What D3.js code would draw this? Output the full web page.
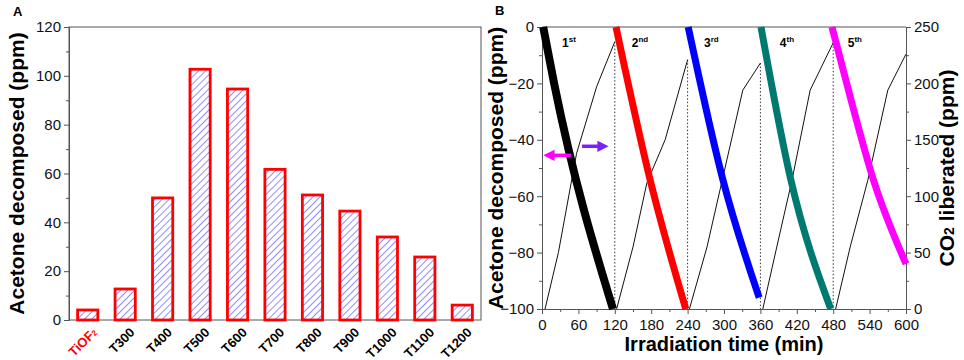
<!DOCTYPE html>
<html>
<head>
<meta charset="utf-8">
<script src="https://cdn.jsdelivr.net/npm/d3@7"></script>
<style>
body { margin:0; background:#fff; }
svg { font-family: Arial, "Liberation Sans", sans-serif; }
.axis path, .axis line { stroke:#555; }
.axis text { font-size:15px; fill:#111; }
</style>
</head>
<body>
<svg id="chart" width="964" height="360"></svg>
<script>
// panel A data
var samples = ["TiOF2","T300","T400","T500","T600","T700","T800","T900","T1000","T1100","T1200"];
var decomposed = [4.1, 12.7, 50, 102.7, 94.6, 61.7, 51.2, 44.6, 34, 25.8, 6.1];
var yTicksA = [0,20,40,60,80,100,120];

// panel B data: acetone decomposed per cycle (time min, ppm)
var cycleNames = ["1st","2nd","3rd","4th","5th"];
var cycleColors = ["#000000","#ff0000","#0000ff","#007a70","#ff00ff"];
var cycleTime = [
  [2, 20, 117],
  [122, 178, 237],
  [241, 298, 358],
  [361, 410, 476],
  [478, 512, 546, 600]
];
var cycleAcetone = [
  [0, -20, -100],
  [0, -54, -100],
  [0, -54, -96],
  [0, -54, -100],
  [0, -28, -54, -84]
];
// CO2 liberated per cycle (time min, ppm)
var co2Time = [
  [5, 27, 57, 90, 120],
  [123, 150, 173, 203, 240],
  [243, 272, 297, 331, 360],
  [364, 387, 412, 442, 480],
  [484, 508, 537, 570, 600]
];
var co2Value = [
  [0, 50, 138, 197, 237],
  [0, 55, 112, 150, 221],
  [0, 55, 114, 194, 218],
  [0, 55, 114, 194, 236],
  [0, 55, 114, 194, 226]
];
var labelTime = [33, 148, 267, 392, 504];
var labelValue = -7;
var xTicksB = [0,60,120,180,240,300,360,420,480,540,600];
var yTicksB = [0,-20,-40,-60,-80,-100];
var y2TicksB = [0,50,100,150,200,250];

var svg = d3.select("#chart");

// hatch pattern
var defs = svg.append("defs");
defs.append("pattern")
  .attr("id","hatch")
  .attr("patternUnits","userSpaceOnUse")
  .attr("width",5).attr("height",5)
  .attr("patternTransform","rotate(45)")
  .append("line")
  .attr("x1",0).attr("y1",0).attr("x2",0).attr("y2",5)
  .attr("stroke","#5c5cff").attr("stroke-width",1.4);
defs.append("marker")
  .attr("id","headM").attr("viewBox","0 0 10 10")
  .attr("refX",2).attr("refY",5)
  .attr("markerWidth",3.2).attr("markerHeight",3.2)
  .attr("orient","auto")
  .append("path").attr("d","M0,0 L10,5 L0,10 z").attr("fill","#ff00ff");
defs.append("marker")
  .attr("id","headP").attr("viewBox","0 0 10 10")
  .attr("refX",2).attr("refY",5)
  .attr("markerWidth",3.2).attr("markerHeight",3.2)
  .attr("orient","auto")
  .append("path").attr("d","M0,0 L10,5 L0,10 z").attr("fill","#7b1fff");

// ---------------- panel A ----------------
var aLeft = 69, aRight = 481, aTop = 27, aBottom = 320;
var xA = d3.scaleBand().domain(samples).range([aLeft, aRight]).paddingInner(0.46).paddingOuter(0.23);
var yA = d3.scaleLinear().domain([0,120]).range([aBottom, aTop]);

svg.append("g").attr("class","axis")
  .attr("transform","translate("+aLeft+",0)")
  .call(d3.axisLeft(yA).tickValues(d3.range(10,120,20)).tickSize(3).tickFormat(""))
  .call(function(g){ g.select(".domain").remove(); });
svg.append("g").attr("class","axis")
  .attr("transform","translate("+aLeft+",0)")
  .call(d3.axisLeft(yA).tickValues(yTicksA).tickSize(5).tickPadding(3));

svg.append("rect")
  .attr("x",aLeft).attr("y",aTop).attr("width",aRight-aLeft).attr("height",aBottom-aTop)
  .attr("fill","none").attr("stroke","#555");

svg.selectAll(".bar").data(samples).enter().append("rect")
  .attr("class","bar")
  .attr("x",function(d){ return xA(d); })
  .attr("width",xA.bandwidth())
  .attr("y",function(d,i){ return yA(decomposed[i]); })
  .attr("height",function(d,i){ return aBottom - yA(decomposed[i]); })
  .attr("fill","url(#hatch)")
  .attr("stroke","#ff0000").attr("stroke-width",2.8);

var xlab = svg.selectAll(".xlab").data(samples).enter().append("text")
  .attr("transform",function(d){ return "translate("+(xA(d)+xA.bandwidth()/2+7)+","+(aBottom+10)+") rotate(-45)"; })
  .attr("text-anchor","end").attr("dy","0.35em")
  .style("font-size","13px").style("font-weight","bold")
  .attr("fill",function(d,i){ return i===0 ? "#ff0000" : "#000"; });
xlab.each(function(d){
  var t = d3.select(this);
  if (d === "TiOF2") {
    t.append("tspan").text("TiOF");
    t.append("tspan").text("2").style("font-size","8px");
  } else t.text(d);
});

svg.append("text")
  .attr("transform","translate(24,"+((aTop+aBottom)/2)+") rotate(-90)")
  .attr("text-anchor","middle")
  .style("font-size","21px").style("font-weight","bold")
  .text("Acetone decomposed (ppm)");
svg.append("text").attr("x",13).attr("y",16)
  .style("font-size","13px").style("font-weight","bold").text("A");

// ---------------- panel B ----------------
var bLeft = 542, bRight = 906, bTop = 27, bBottom = 309;
var xB = d3.scaleLinear().domain([0,600]).range([bLeft,bRight]);
var yB = d3.scaleLinear().domain([-100,0]).range([bBottom,bTop]);
var y2B = d3.scaleLinear().domain([0,250]).range([bBottom,bTop]);

function minor(g){ g.select(".domain").remove(); }
svg.append("g").attr("class","axis").attr("transform","translate("+bLeft+",0)")
  .call(d3.axisLeft(yB).tickValues(d3.range(-90,0,20)).tickSize(3).tickFormat("")).call(minor);
svg.append("g").attr("class","axis").attr("transform","translate("+bLeft+",0)")
  .call(d3.axisLeft(yB).tickValues(yTicksB).tickSize(5).tickPadding(3));
svg.append("g").attr("class","axis").attr("transform","translate(0,"+bBottom+")")
  .call(d3.axisBottom(xB).tickValues(d3.range(30,600,60)).tickSize(3).tickFormat("")).call(minor);
svg.append("g").attr("class","axis").attr("transform","translate(0,"+bBottom+")")
  .call(d3.axisBottom(xB).tickValues(xTicksB).tickSize(5).tickPadding(5));
svg.append("g").attr("class","axis").attr("transform","translate("+bRight+",0)")
  .call(d3.axisRight(y2B).tickValues(d3.range(25,250,50)).tickSize(3).tickFormat("")).call(minor);
svg.append("g").attr("class","axis").attr("transform","translate("+bRight+",0)")
  .call(d3.axisRight(y2B).tickValues(y2TicksB).tickSize(5).tickPadding(3));
svg.append("line").attr("x1",bLeft).attr("x2",bRight).attr("y1",bTop).attr("y2",bTop).attr("stroke","#555");

// dotted separators at cycle ends
var sepTimes = [120,240,360,480];
svg.selectAll(".sep").data(sepTimes).enter().append("line")
  .attr("x1",function(d){ return xB(d); }).attr("x2",function(d){ return xB(d); })
  .attr("y1",function(d,i){ return y2B(co2Value[i][co2Value[i].length-1]); })
  .attr("y2",bBottom)
  .attr("stroke","#333").attr("stroke-width",1).attr("stroke-dasharray","1.5,2");

// CO2 thin lines
var lineCO2 = d3.line().x(function(d){ return xB(d[0]); }).y(function(d){ return y2B(d[1]); });
co2Time.forEach(function(ts,c){
  svg.append("path")
    .attr("d",lineCO2(ts.map(function(t,i){ return [t, co2Value[c][i]]; })))
    .attr("fill","none").attr("stroke","#111").attr("stroke-width",1);
});

// acetone thick lines
var lineAc = d3.line().curve(d3.curveMonotoneX)
  .x(function(d){ return xB(d[0]); }).y(function(d){ return yB(d[1]); });
cycleTime.forEach(function(ts,c){
  svg.append("path")
    .attr("d",lineAc(ts.map(function(t,i){ return [t, cycleAcetone[c][i]]; })))
    .attr("fill","none").attr("stroke",cycleColors[c])
    .attr("stroke-width",c===0 ? 8 : 7).attr("stroke-linecap","butt");
});

// cycle labels
cycleNames.forEach(function(n,i){
  var t = svg.append("text").attr("x",xB(labelTime[i])).attr("y",yB(labelValue))
    .style("font-size","12px").style("font-weight","bold");
  t.append("tspan").text(n.charAt(0));
  t.append("tspan").text(n.slice(1)).attr("dy","-5").style("font-size","8px");
});

// arrows
svg.append("line")
  .attr("x1",xB(48)).attr("x2",xB(17)).attr("y1",yB(-45.5)).attr("y2",yB(-45.5))
  .attr("stroke","#ff00ff").attr("stroke-width",3.5).attr("marker-end","url(#headM)");
svg.append("line")
  .attr("x1",xB(66)).attr("x2",xB(95)).attr("y1",yB(-42.3)).attr("y2",yB(-42.3))
  .attr("stroke","#7b1fff").attr("stroke-width",3.5).attr("marker-end","url(#headP)");

svg.append("text")
  .attr("transform","translate(503,"+((bTop+bBottom)/2)+") rotate(-90)")
  .attr("text-anchor","middle")
  .style("font-size","21px").style("font-weight","bold")
  .text("Acetone decomposed (ppm)");
var co2lab = svg.append("text")
  .attr("transform","translate(954,"+((bTop+bBottom)/2)+") rotate(-90)")
  .attr("text-anchor","middle")
  .style("font-size","21px").style("font-weight","bold");
co2lab.append("tspan").text("CO");
co2lab.append("tspan").text("2").style("font-size","14px");
co2lab.append("tspan").text(" liberated (ppm)");
svg.append("text")
  .attr("x",(bLeft+bRight)/2).attr("y",351).attr("text-anchor","middle")
  .style("font-size","20px").style("font-weight","bold")
  .text("Irradiation time (min)");
svg.append("text").attr("x",495).attr("y",15)
  .style("font-size","13px").style("font-weight","bold").text("B");
</script>
</body>
</html>
